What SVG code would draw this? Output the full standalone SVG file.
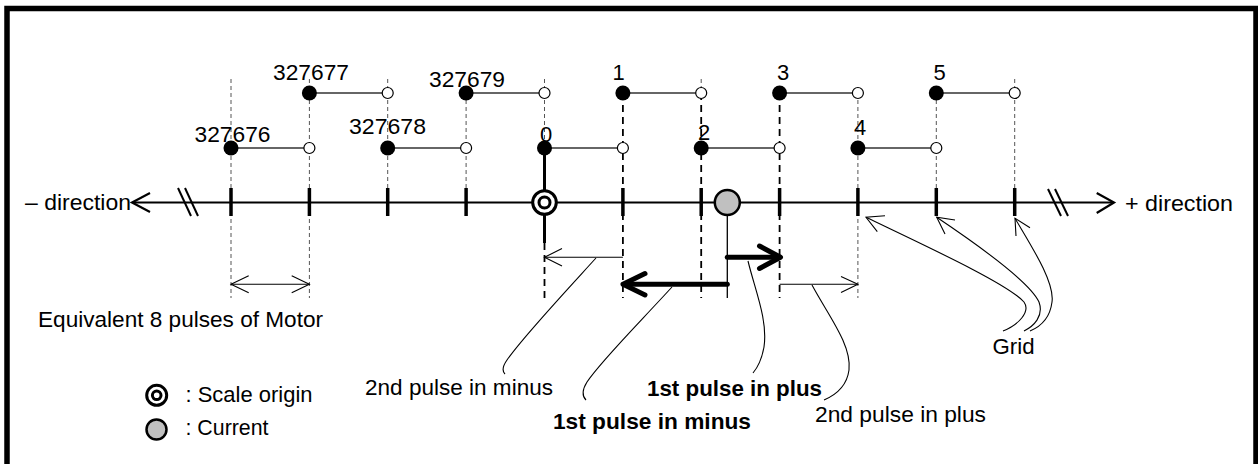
<svg xmlns="http://www.w3.org/2000/svg" width="1258" height="464" viewBox="0 0 1258 464">
<style>
.t{font-family:"Liberation Sans",Arial,sans-serif;font-size:22px;fill:#000}
.b{font-weight:bold}
.tick{stroke:#000;stroke-width:3.5}
.dg{stroke:#555;stroke-width:1;stroke-dasharray:4 3;fill:none}
.dk{stroke:#000;stroke-width:1.8;stroke-dasharray:7 5;fill:none}
.seg{stroke:#333;stroke-width:1.3}
.fd{fill:#000}
.od{fill:#fff;stroke:#000;stroke-width:1.2}
.thin{stroke:#000;stroke-width:1.1;fill:none}
.thick{stroke:#000;stroke-width:5;fill:none;stroke-linecap:round;stroke-linejoin:round}
.ax{stroke:#000;stroke-width:2.2;fill:none}
</style>
<rect x="7" y="8.5" width="1249" height="470" fill="#fff" stroke="#000" stroke-width="5.5"/>

<g id="guides">
<line class="dg" x1="231" y1="79" x2="231" y2="298"/>
<line class="dg" x1="309.4" y1="79" x2="309.4" y2="298"/>
<line class="dg" x1="387.7" y1="79" x2="387.7" y2="189"/>
<line class="dg" x1="466.1" y1="93" x2="466.1" y2="189"/>
<line class="dg" x1="544.5" y1="79" x2="544.5" y2="148"/>
<line class="dk" x1="544.5" y1="243" x2="544.5" y2="298"/>
<line class="dk" x1="622.9" y1="93" x2="622.9" y2="298"/>
<line class="dg" x1="701.2" y1="79" x2="701.2" y2="93"/>
<line class="dk" x1="701.2" y1="93" x2="701.2" y2="298"/>
<line class="dk" x1="779.6" y1="93" x2="779.6" y2="298"/>
<line class="dg" x1="857.9" y1="93" x2="857.9" y2="298"/>
<line class="dg" x1="936.3" y1="93" x2="936.3" y2="189"/>
<line class="dg" x1="1014.7" y1="79" x2="1014.7" y2="189"/>
</g>

<g id="axis">
<line class="ax" x1="133" y1="202.5" x2="1113" y2="202.5"/>
<polyline class="ax" points="150,193 132,202.5 150,212"/>
<polyline class="ax" points="1096.7,193 1114,202.5 1096.7,213"/>
<line stroke="#000" stroke-width="2" x1="178" y1="188" x2="191" y2="216"/>
<line stroke="#000" stroke-width="2" x1="185" y1="188" x2="198" y2="216"/>
<line stroke="#000" stroke-width="2" x1="1048" y1="189" x2="1061" y2="216"/>
<line stroke="#000" stroke-width="2" x1="1055" y1="189" x2="1068" y2="216"/>
<g class="tick">
<line x1="231" y1="188" x2="231" y2="216"/>
<line x1="309.4" y1="188" x2="309.4" y2="216"/>
<line x1="387.7" y1="188" x2="387.7" y2="216"/>
<line x1="466.1" y1="188" x2="466.1" y2="216"/>
<line x1="622.9" y1="188" x2="622.9" y2="216"/>
<line x1="701.2" y1="188" x2="701.2" y2="216"/>
<line x1="779.6" y1="188" x2="779.6" y2="216"/>
<line x1="857.9" y1="188" x2="857.9" y2="216"/>
<line x1="936.3" y1="188" x2="936.3" y2="216"/>
<line x1="1014.7" y1="188" x2="1014.7" y2="216"/>
</g>
<text class="t" x="25" y="210" textLength="106" lengthAdjust="spacingAndGlyphs">– direction</text>
<text class="t" x="1125" y="210.5" textLength="108" lengthAdjust="spacingAndGlyphs">+ direction</text>
</g>

<g id="steps">
<g class="seg">
<line x1="309.4" y1="93" x2="387.7" y2="93"/>
<line x1="466.1" y1="93" x2="544.5" y2="93"/>
<line x1="622.9" y1="93" x2="701.2" y2="93"/>
<line x1="779.6" y1="93" x2="857.9" y2="93"/>
<line x1="936.3" y1="93" x2="1014.7" y2="93"/>
<line x1="231" y1="148" x2="309.4" y2="148"/>
<line x1="387.7" y1="148" x2="466.1" y2="148"/>
<line x1="544.5" y1="148" x2="622.9" y2="148"/>
<line x1="701.2" y1="148" x2="779.6" y2="148"/>
<line x1="857.9" y1="148" x2="936.3" y2="148"/>
</g>
<g class="fd">
<circle cx="309.4" cy="93" r="7.5"/>
<circle cx="466.1" cy="93" r="7.5"/>
<circle cx="622.9" cy="93" r="7.5"/>
<circle cx="779.6" cy="93" r="7.5"/>
<circle cx="936.3" cy="93" r="7.5"/>
<circle cx="231" cy="148" r="7.5"/>
<circle cx="387.7" cy="148" r="7.5"/>
<circle cx="544.5" cy="148" r="7.5"/>
<circle cx="701.2" cy="148" r="7.5"/>
<circle cx="857.9" cy="148" r="7.5"/>
</g>
<g class="od">
<circle cx="387.7" cy="93" r="5.5"/>
<circle cx="544.5" cy="93" r="5.5"/>
<circle cx="701.2" cy="93" r="5.5"/>
<circle cx="857.9" cy="93" r="5.5"/>
<circle cx="1014.7" cy="93" r="5.5"/>
<circle cx="309.4" cy="148" r="5.5"/>
<circle cx="466.1" cy="148" r="5.5"/>
<circle cx="622.9" cy="148" r="5.5"/>
<circle cx="779.6" cy="148" r="5.5"/>
<circle cx="936.3" cy="148" r="5.5"/>
</g>
<text class="t" x="194.5" y="141.7" textLength="76" lengthAdjust="spacingAndGlyphs">327676</text>
<text class="t" x="273" y="80" textLength="76" lengthAdjust="spacingAndGlyphs">327677</text>
<text class="t" x="349" y="134" textLength="77" lengthAdjust="spacingAndGlyphs">327678</text>
<text class="t" x="429" y="86.7" textLength="76" lengthAdjust="spacingAndGlyphs">327679</text>
<g class="t" text-anchor="middle">
<text x="546" y="141.7">0</text>
<text x="618.7" y="80">1</text>
<text x="704" y="140">2</text>
<text x="783" y="80">3</text>
<text x="860" y="135">4</text>
<text x="939.7" y="80">5</text>
</g>
</g>

<g id="origin">
<line stroke="#000" stroke-width="3" x1="544.5" y1="148" x2="544.5" y2="243"/>
<circle cx="544.5" cy="202.5" r="11.8" fill="#fff" stroke="#000" stroke-width="3"/>
<circle cx="544.5" cy="202.5" r="5.5" fill="#fff" stroke="#000" stroke-width="3"/>
</g>

<g id="current">
<line stroke="#000" stroke-width="1.3" x1="727.3" y1="214" x2="727.3" y2="298"/>
<circle cx="727.3" cy="202.5" r="12.5" fill="#c0c0c0" stroke="#000" stroke-width="2.5"/>
</g>

<g id="connectors">
<line class="thin" x1="231" y1="284.3" x2="309.4" y2="284.3"/>
<polyline class="thin" points="248.7,275.8 231,284.3 248.7,292.8"/>
<polyline class="thin" points="291.7,275.8 309.4,284.3 291.7,292.8"/>
<line class="thin" x1="544.5" y1="257.3" x2="622.9" y2="257.3"/>
<polyline class="thin" points="562,248.5 544.5,257.3 562,266"/>
<line class="thick" x1="727.3" y1="284.3" x2="625" y2="284.3"/>
<polyline class="thick" points="645,273.5 623,284.3 645,295"/>
<line class="thick" x1="727.3" y1="257.3" x2="778" y2="257.3"/>
<polyline class="thick" points="759.5,246 780.5,257.3 759.5,268.5"/>
<line class="thin" x1="779.6" y1="284.3" x2="857.9" y2="284.3"/>
<polyline class="thin" points="841,276.5 857.9,284.3 841,292.5"/>
<path class="thin" d="M596,258 C565,292 522,338 507,360 C502,367 502,371 505,374"/>
<path class="thin" d="M672,287 C640,322 600,362 587,382 C582,390 582,396 586,400"/>
<path class="thin" d="M748,261 C755,290 768,320 764,347 C762,358 758,367 753,373"/>
<path class="thin" d="M812,285 C828,315 852,345 849,370 C847,385 838,394 824,400"/>
<path class="thin" d="M866,217.3 C930,248 1008,284 1024,302 C1031,312 1018,325 1003,331"/>
<polyline class="thin" points="885,215.7 866,217.3 877.3,231.7"/>
<path class="thin" d="M936.7,217.3 C975,243 1030,282 1039,302 C1044,316 1034,326 1024,331"/>
<polyline class="thin" points="955,220 936.7,217.3 945,234"/>
<path class="thin" d="M1015,218.3 C1030,244 1055,282 1052,302 C1050,318 1042,326 1030,331"/>
<polyline class="thin" points="1030,227.7 1015,218.3 1016,236"/>
</g>

<g id="labels">
<text class="t" x="38" y="326.7" textLength="285" lengthAdjust="spacingAndGlyphs">Equivalent 8 pulses of Motor</text>
<text class="t" x="365" y="395" textLength="188" lengthAdjust="spacingAndGlyphs">2nd pulse in minus</text>
<text class="t b" x="553" y="429.3" textLength="198" lengthAdjust="spacingAndGlyphs">1st pulse in minus</text>
<text class="t b" x="647" y="395.7" textLength="175" lengthAdjust="spacingAndGlyphs">1st pulse in plus</text>
<text class="t" x="815" y="421.7" textLength="171" lengthAdjust="spacingAndGlyphs">2nd pulse in plus</text>
<text class="t" x="992.5" y="354" textLength="42" lengthAdjust="spacingAndGlyphs">Grid</text>
</g>

<g id="legend">
<circle cx="156.7" cy="395.3" r="10" fill="#fff" stroke="#000" stroke-width="3"/>
<circle cx="156.7" cy="395.3" r="4.3" fill="#fff" stroke="#000" stroke-width="3"/>
<text class="t" x="185.5" y="401.7" textLength="127" lengthAdjust="spacingAndGlyphs">: Scale origin</text>
<circle cx="156.5" cy="429.5" r="10" fill="#c0c0c0" stroke="#000" stroke-width="2.5"/>
<text class="t" x="185.5" y="435" textLength="83" lengthAdjust="spacingAndGlyphs">: Current</text>
</g>
</svg>
